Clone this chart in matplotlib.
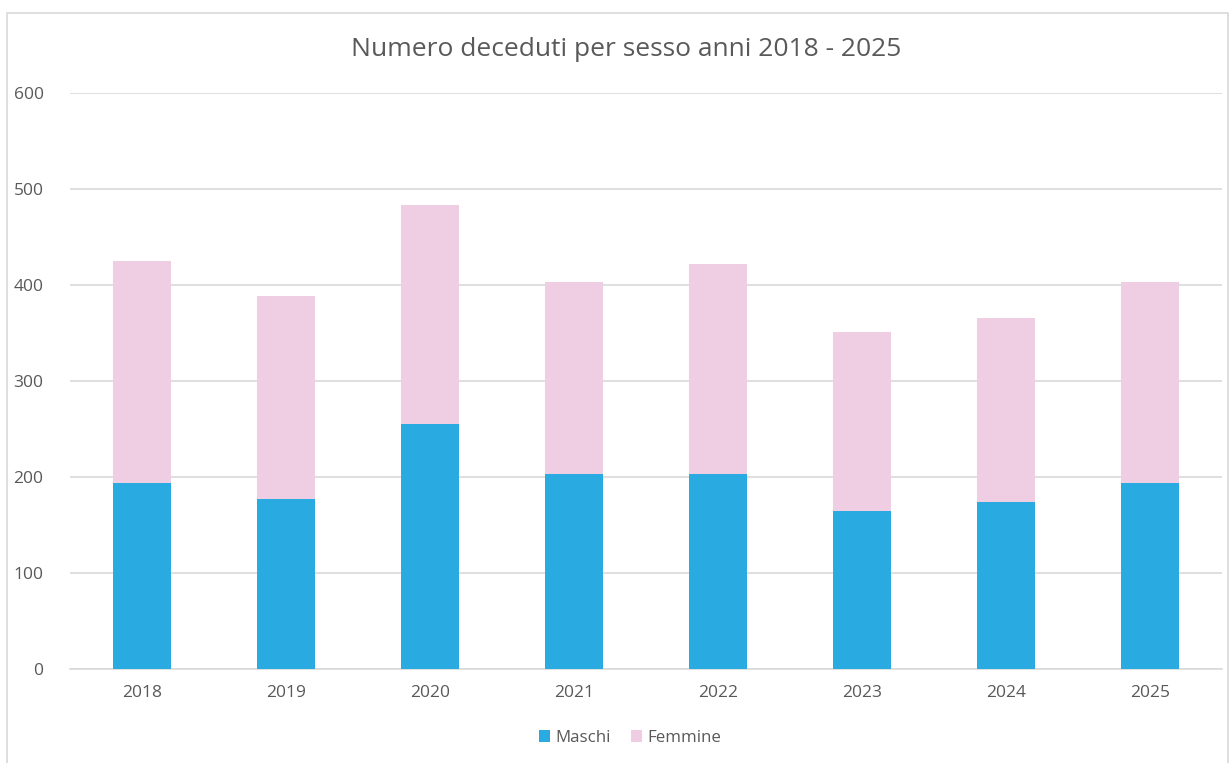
import matplotlib.pyplot as plt
import numpy as np
from matplotlib.patches import Rectangle

anni = ['2018', '2019', '2020', '2021', '2022', '2023', '2024', '2025']
maschi = [194, 177, 256, 203, 203, 165, 174, 194]
femmine = [231, 212, 228, 200, 219, 186, 192, 209]

plt.rcParams['font.family'] = ['Open Sans', 'DejaVu Sans']
grigio = '#595959'

fig = plt.figure(figsize=(12.32, 7.63), dpi=100)
# chart frame like the spreadsheet one
fig.patches.append(Rectangle((7 / 1232, -0.05), 1221 / 1232, 1.05 - 13 / 763,
                             transform=fig.transFigure, fill=False,
                             edgecolor='#D9D9D9', linewidth=1.2))

ax = fig.add_axes([70 / 1232, (763 - 669.3) / 763, 1152 / 1232, (669.3 - 93.3) / 763])
x = np.arange(len(anni))
ax.bar(x, maschi, width=0.4, color='#29ABE2', label='Maschi', zorder=3)
ax.bar(x, femmine, width=0.4, bottom=maschi, color='#EFCDE2', label='Femmine', zorder=3)

ax.set_xlim(-0.5, len(anni) - 0.5)
ax.set_ylim(0, 600)
ax.set_yticks(range(0, 601, 100))
ax.set_xticks(x)
ax.set_xticklabels(anni)
ax.grid(axis='y', color='#D9D9D9', linewidth=1.2, zorder=0)
for s in ['top', 'right', 'left']:
    ax.spines[s].set_visible(False)
ax.spines['bottom'].set_color('#D9D9D9')
ax.spines['bottom'].set_linewidth(1.2)
ax.tick_params(axis='both', length=0, colors=grigio, labelsize=12.5)
ax.tick_params(axis='y', pad=19)
ax.tick_params(axis='x', pad=11)

fig.text(626 / 1232, 1 - 50 / 763, 'Numero deceduti per sesso anni 2018 - 2025',
         ha='center', va='center', fontsize=19, color=grigio)

fig.legend(loc='center', bbox_to_anchor=(630 / 1232, 1 - 738 / 763), ncol=2,
           frameon=False, fontsize=12.2, labelcolor=grigio, handlelength=0.65,
           handleheight=0.65, handletextpad=0.3, columnspacing=1.2)

fig.savefig('out.png', dpi=100)
